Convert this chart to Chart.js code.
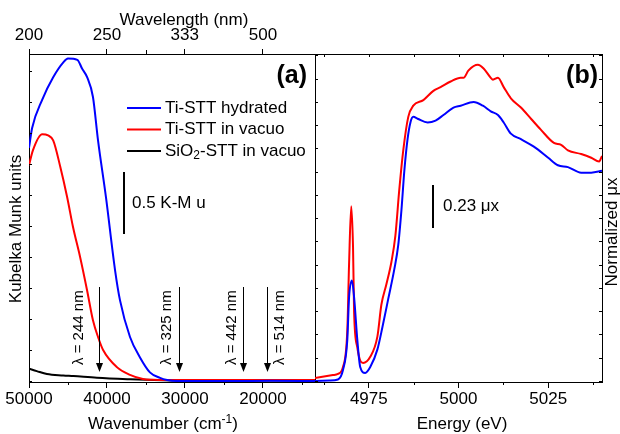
<!DOCTYPE html>
<html>
<head>
<meta charset="utf-8">
<script src="https://cdn.jsdelivr.net/npm/chart.js@4.4.0/dist/chart.umd.min.js"></script>
<style>
  html, body { margin: 0; padding: 0; background: #fff; }
  #wrap { position: relative; width: 620px; height: 434px; overflow: hidden; background: #fff; }
  #uv { position: absolute; left: 0; top: 0; width: 316px; height: 434px; }
  #xanes { position: absolute; left: 310px; top: 0; width: 310px; height: 434px; }
</style>
</head>
<body>
<div id="wrap">
  <canvas id="uv" width="316" height="434"></canvas>
  <canvas id="xanes" width="310" height="434"></canvas>
</div>
<script>
// ---- panel (a): diffuse reflectance UV-Vis, Kubelka-Munk units vs wavenumber
const hydratedWn = [50000, 49600, 48300, 46900, 45600, 45000, 43800, 43200, 42550, 41800, 41150, 40130, 38970, 38330, 37050, 35770, 34500, 33200, 32300, 31000, 24000, 19000, 13333];
const hydratedKM = [1.88, 2.04, 2.27, 2.45, 2.57, 2.60, 2.59, 2.52, 2.45, 2.29, 1.94, 1.48, 0.895, 0.65, 0.355, 0.19, 0.07, 0.025, 0.008, 0.0, 0.0, 0.002, 0.0];
const vacuoWn = [50000, 49500, 48300, 47550, 46900, 46000, 45100, 44350, 43450, 42550, 41800, 41150, 40500, 38700, 37050, 35400, 34100, 32500, 13333];
const vacuoKM = [1.74, 1.86, 1.99, 1.98, 1.94, 1.73, 1.48, 1.24, 1.00, 0.73, 0.49, 0.355, 0.25, 0.11, 0.05, 0.016, 0.01, 0.008, 0.008];
const sio2Wn = [50000, 49000, 47700, 45600, 44300, 41300, 37000, 34000, 30000, 13333];
const sio2KM = [0.10, 0.08, 0.056, 0.045, 0.04, 0.026, 0.014, 0.008, 0.004, 0.004];

const wnTicks = [50000, 40000, 30000, 20000];
const wnMinor = [45000, 35000, 25000, 15000];
const nmTicks = [200, 250, 333, 500];
const nmMinorWn = [35000];
const kmTicks = [0, 0.25, 0.5, 0.75, 1, 1.25, 1.5, 1.75, 2, 2.25, 2.5];
const arrowNm = [244, 325, 442, 514];
const arrowTopKM = 0.758, arrowTipKM = 0.073, arrowLabelKM = 0.43;
const barWn = 37800, barKM = [1.185, 1.685];

// ---- panel (b): Ti K-edge XANES
const hydE = [4960, 4964, 4966.4, 4967.8, 4969.0, 4969.5, 4970.3, 4970.9, 4971.8, 4972.6, 4974.0, 4975.4, 4977.4, 4978.8, 4980.4, 4982.1, 4983.2, 4984.1, 4984.9, 4985.8, 4986.6, 4987.4, 4988.6, 4991.4, 4993.6, 4995.8, 4998.6, 5000.6, 5004.2, 5006.8, 5009.0, 5011.0, 5012.6, 5014.6, 5017.4, 5021.0, 5025.0, 5027.7, 5030.5, 5034.2, 5037.0, 5040];
const hydMu = [0, 0.002, 0.008, 0.059, 0.22, 0.45, 0.54, 0.45, 0.22, 0.075, 0.043, 0.075, 0.17, 0.29, 0.44, 0.60, 0.73, 0.92, 1.13, 1.30, 1.39, 1.42, 1.41, 1.39, 1.40, 1.43, 1.47, 1.48, 1.50, 1.48, 1.45, 1.43, 1.39, 1.33, 1.30, 1.26, 1.20, 1.16, 1.15, 1.12, 1.12, 1.13];
const vacE = [4960, 4965.0, 4966.4, 4967.8, 4969.0, 4969.5, 4970.1, 4970.6, 4970.9, 4971.8, 4972.6, 4973.4, 4975.4, 4977.4, 4978.5, 4979.9, 4981.3, 4982.4, 4983.5, 4984.6, 4986.0, 4987.4, 4990.2, 4993.0, 4995.0, 4997.8, 5000.6, 5001.4, 5002.8, 5005.4, 5007.0, 5009.0, 5009.6, 5011.0, 5012.6, 5014.6, 5017.4, 5020.2, 5023.0, 5026.6, 5028.6, 5030.5, 5034.2, 5037.0, 5039.2, 5040];
const vacMu = [0.016, 0.032, 0.038, 0.075, 0.27, 0.63, 0.94, 0.72, 0.37, 0.18, 0.11, 0.097, 0.13, 0.24, 0.41, 0.52, 0.64, 0.78, 1.03, 1.24, 1.42, 1.48, 1.51, 1.56, 1.58, 1.61, 1.63, 1.63, 1.67, 1.70, 1.68, 1.63, 1.62, 1.63, 1.58, 1.52, 1.47, 1.41, 1.35, 1.28, 1.27, 1.24, 1.22, 1.20, 1.18, 1.21];

const eTicks = [4975, 5000, 5025];
const eMinor = [4962.5, 4987.5, 5012.5, 5037.5];
const eTop = [4962.5, 4975, 4987.5, 5000, 5012.5, 5025, 5037.5];
const muTicks = [0, 0.125, 0.25, 0.375, 0.5, 0.625, 0.75, 0.875, 1, 1.125, 1.25, 1.375, 1.5, 1.625, 1.75];
const barE = 4993.0, barMu = [0.823, 1.054];

const FONT = '"Liberation Sans", Arial, sans-serif';
Chart.defaults.font.family = FONT;
Chart.defaults.color = '#000';

const labelDx = [-21, -13, -12, 12];

function pts(xs, ys) {
    return xs.map((x, i) => ({x: x, y: ys[i]}));
}

// draw text with _sub / ^sup parts, e.g. [['SiO'], ['2', 'sub'], ['-STT']]
function rich(ctx, parts, x, y, size, align) {
    const small = Math.round(size * 0.68);
    let w = 0;
    parts.forEach(p => {
        ctx.font = (p[1] ? small : size) + 'px ' + FONT;
        w += ctx.measureText(p[0]).width;
    });
    let cx = align === 'center' ? x - w / 2 : x;
    ctx.textAlign = 'left';
    parts.forEach(p => {
        ctx.font = (p[1] ? small : size) + 'px ' + FONT;
        let dy = 0;
        if (p[1] === 'sub') dy = size * 0.3;
        if (p[1] === 'sup') dy = -size * 0.38;
        ctx.fillText(p[0], cx, y + dy);
        cx += ctx.measureText(p[0]).width;
    });
}

function tickLine(ctx, x1, y1, x2, y2) {
    ctx.beginPath();
    ctx.moveTo(x1, y1);
    ctx.lineTo(x2, y2);
    ctx.stroke();
}

const uvDecor = {
    id: 'uvDecor',
    afterDraw(chart) {
        const ctx = chart.ctx;
        const xs = chart.scales.x, ys = chart.scales.y;
        const area = chart.chartArea;
        ctx.save();
        ctx.strokeStyle = '#000';
        ctx.fillStyle = '#000';
        ctx.lineWidth = 1;

        // inward ticks on the left axis
        kmTicks.forEach(v => {
            const y = Math.round(ys.getPixelForValue(v)) + 0.5;
            tickLine(ctx, area.left, y, area.left + 3, y);
        });
        // minor ticks, bottom and top
        wnMinor.forEach(v => {
            const x = Math.round(xs.getPixelForValue(v)) + 0.5;
            tickLine(ctx, x, area.bottom, x, area.bottom + 3);
        });
        nmMinorWn.forEach(v => {
            const x = Math.round(xs.getPixelForValue(v)) + 0.5;
            tickLine(ctx, x, area.top, x, area.top - 4);
        });

        // scale bar
        const bx = Math.round(xs.getPixelForValue(barWn));
        ctx.lineWidth = 2;
        tickLine(ctx, bx, ys.getPixelForValue(barKM[0]), bx, ys.getPixelForValue(barKM[1]));
        ctx.font = '17px ' + FONT;
        ctx.textBaseline = 'middle';
        ctx.textAlign = 'left';
        ctx.fillText('0.5 K-M u', bx + 8, ys.getPixelForValue((barKM[0] + barKM[1]) / 2));

        // laser wavelength arrows
        ctx.lineWidth = 1;
        arrowNm.forEach((nm, i) => {
            const x = Math.round(xs.getPixelForValue(1e7 / nm)) + 0.5;
            const y0 = ys.getPixelForValue(arrowTopKM);
            const y1 = ys.getPixelForValue(arrowTipKM);
            tickLine(ctx, x, y0, x, y1 - 7);
            ctx.beginPath();
            ctx.moveTo(x - 3.5, y1 - 9);
            ctx.lineTo(x + 3.5, y1 - 9);
            ctx.lineTo(x, y1);
            ctx.closePath();
            ctx.fill();
            ctx.save();
            ctx.translate(x + labelDx[i], ys.getPixelForValue(arrowLabelKM));
            ctx.rotate(-Math.PI / 2);
            ctx.font = '15px ' + FONT;
            ctx.textAlign = 'center';
            ctx.textBaseline = 'middle';
            ctx.fillText('\u03bb = ' + nm + ' nm', 0, 0);
            ctx.restore();
        });

        // legend
        ctx.lineWidth = 2;
        ctx.textBaseline = 'middle';
        chart.data.datasets.forEach((ds, i) => {
            const y = 108 + i * 21.5;
            ctx.strokeStyle = ds.borderColor;
            tickLine(ctx, 127, y, 161, y);
            const parts = ds.label.split('\u2082');
            const rp = parts.length > 1 ? [[parts[0]], ['2', 'sub'], [parts[1]]] : [[parts[0]]];
            rich(ctx, rp, 165, y, 17, 'left');
        });

        // panel label
        ctx.font = 'bold 25px ' + FONT;
        ctx.textAlign = 'right';
        ctx.textBaseline = 'alphabetic';
        ctx.fillText('(a)', area.right - 8, 83);

        // axis titles
        ctx.textBaseline = 'alphabetic';
        ctx.font = '17px ' + FONT;
        ctx.textAlign = 'center';
        ctx.fillText('Wavelength (nm)', (area.left + area.right) / 2 + 12, 25);
        rich(ctx, [['Wavenumber (cm'], ['-1', 'sup'], [')']], (area.left + area.right) / 2 - 9, 429, 17, 'center');
        ctx.save();
        ctx.translate(16, 229);
        ctx.rotate(-Math.PI / 2);
        ctx.font = '17px ' + FONT;
        ctx.textAlign = 'center';
        ctx.textBaseline = 'middle';
        ctx.fillText('Kubelka Munk units', 0, 0);
        ctx.restore();
        ctx.restore();
    }
};

const xanesDecor = {
    id: 'xanesDecor',
    afterDraw(chart) {
        const ctx = chart.ctx;
        const xs = chart.scales.x, ys = chart.scales.y;
        const area = chart.chartArea;
        ctx.save();
        ctx.strokeStyle = '#000';
        ctx.fillStyle = '#000';
        ctx.lineWidth = 1;

        muTicks.forEach(v => {
            const y = Math.round(ys.getPixelForValue(v)) + 0.5;
            tickLine(ctx, area.left, y, area.left + 3, y);
            tickLine(ctx, area.right, y, area.right - 3, y);
        });
        eTop.forEach(v => {
            const x = Math.round(xs.getPixelForValue(v)) + 0.5;
            tickLine(ctx, x, area.top, x, area.top + 3);
        });
        eMinor.forEach(v => {
            const x = Math.round(xs.getPixelForValue(v)) + 0.5;
            tickLine(ctx, x, area.bottom, x, area.bottom + 3);
        });

        // scale bar
        const bx = Math.round(xs.getPixelForValue(barE));
        ctx.lineWidth = 2;
        tickLine(ctx, bx, ys.getPixelForValue(barMu[0]), bx, ys.getPixelForValue(barMu[1]));
        ctx.font = '17px ' + FONT;
        ctx.textBaseline = 'middle';
        ctx.textAlign = 'left';
        ctx.fillText('0.23 \u03bcx', bx + 10, ys.getPixelForValue((barMu[0] + barMu[1]) / 2));

        ctx.font = 'bold 25px ' + FONT;
        ctx.textAlign = 'right';
        ctx.textBaseline = 'alphabetic';
        ctx.fillText('(b)', area.right - 4, 83);

        ctx.font = '17px ' + FONT;
        ctx.textAlign = 'center';
        ctx.fillText('Energy (eV)', (area.left + area.right) / 2 + 3.5, 429);
        ctx.save();
        ctx.translate(area.right + 10, 232);
        ctx.rotate(-Math.PI / 2);
        ctx.textBaseline = 'middle';
        ctx.fillText('Normalized \u03bcx', 0, 0);
        ctx.restore();
        ctx.restore();
    }
};

const axisFont = {family: FONT, size: 17};

new Chart(document.getElementById('uv'), {
    type: 'line',
    data: {
        datasets: [
            {label: 'Ti-STT hydrated', data: pts(hydratedWn, hydratedKM), borderColor: '#0000ff', xAxisID: 'x', yAxisID: 'y'},
            {label: 'Ti-STT in vacuo', data: pts(vacuoWn, vacuoKM), borderColor: '#ff0000', xAxisID: 'x', yAxisID: 'y'},
            {label: 'SiO\u2082-STT in vacuo', data: pts(sio2Wn, sio2KM), borderColor: '#000000', xAxisID: 'x', yAxisID: 'y'}
        ]
    },
    options: {
        responsive: false,
        animation: false,
        layout: {padding: {left: 0, right: 1, top: 0, bottom: 0}},
        plugins: {legend: {display: false}, tooltip: {enabled: false}},
        elements: {
            point: {radius: 0},
            line: {borderWidth: 2, cubicInterpolationMode: 'monotone', fill: false}
        },
        scales: {
            x: {
                type: 'linear', position: 'bottom', reverse: true, min: 13333, max: 50000,
                afterBuildTicks: s => { s.ticks = wnTicks.map(v => ({value: v})); },
                afterFit: s => { s.height = 52; },
                ticks: {callback: v => String(v), font: axisFont, color: '#000', padding: 1.3, maxRotation: 0, autoSkip: false},
                grid: {display: true, drawOnChartArea: false, drawTicks: true, tickLength: 6, tickColor: '#000', tickWidth: 1},
                border: {display: true, color: '#000', width: 1}
            },
            xTop: {
                type: 'linear', position: 'top', reverse: true, min: 13333, max: 50000,
                afterBuildTicks: s => { s.ticks = nmTicks.map(nm => ({value: 1e7 / nm})); },
                afterFit: s => { s.height = 54; },
                ticks: {callback: (v, i) => String(nmTicks[i]), font: axisFont, color: '#000', padding: 3.8, maxRotation: 0, autoSkip: false},
                grid: {display: true, drawOnChartArea: false, drawTicks: true, tickLength: 5, tickColor: '#000', tickWidth: 1},
                border: {display: true, color: '#000', width: 1}
            },
            y: {
                type: 'linear', position: 'left', min: -0.008, max: 2.637,
                afterFit: s => { s.width = 29; },
                ticks: {display: false},
                grid: {display: false},
                border: {display: true, color: '#000', width: 1}
            }
        }
    },
    plugins: [uvDecor]
});

new Chart(document.getElementById('xanes'), {
    type: 'line',
    data: {
        datasets: [
            {label: 'Ti-STT hydrated', data: pts(hydE, hydMu), borderColor: '#0000ff', xAxisID: 'x', yAxisID: 'y'},
            {label: 'Ti-STT in vacuo', data: pts(vacE, vacMu), borderColor: '#ff0000', xAxisID: 'x', yAxisID: 'y'}
        ]
    },
    options: {
        responsive: false,
        animation: false,
        layout: {padding: 0},
        plugins: {legend: {display: false}, tooltip: {enabled: false}},
        elements: {
            point: {radius: 0},
            line: {borderWidth: 2, cubicInterpolationMode: 'monotone', fill: false}
        },
        scales: {
            x: {
                type: 'linear', position: 'bottom', min: 4960, max: 5040,
                afterBuildTicks: s => { s.ticks = eTicks.map(v => ({value: v})); },
                afterFit: s => { s.height = 52; },
                ticks: {callback: v => String(v), font: axisFont, color: '#000', padding: 1.3, maxRotation: 0, autoSkip: false},
                grid: {display: true, drawOnChartArea: false, drawTicks: true, tickLength: 6, tickColor: '#000', tickWidth: 1},
                border: {display: true, color: '#000', width: 1}
            },
            xTop: {
                type: 'linear', position: 'top', min: 4960, max: 5040,
                afterFit: s => { s.height = 54; },
                ticks: {display: false},
                grid: {display: false},
                border: {display: true, color: '#000', width: 1}
            },
            y: {
                type: 'linear', position: 'left', min: -0.0054, max: 1.758,
                afterFit: s => { s.width = 5; },
                ticks: {display: false},
                grid: {display: false},
                border: {display: true, color: '#000', width: 1}
            },
            yRight: {
                type: 'linear', position: 'right', min: -0.0054, max: 1.758,
                afterFit: s => { s.width = 18; },
                ticks: {display: false},
                grid: {display: false},
                border: {display: true, color: '#000', width: 1}
            }
        }
    },
    plugins: [xanesDecor]
});
</script>
</body>
</html>
